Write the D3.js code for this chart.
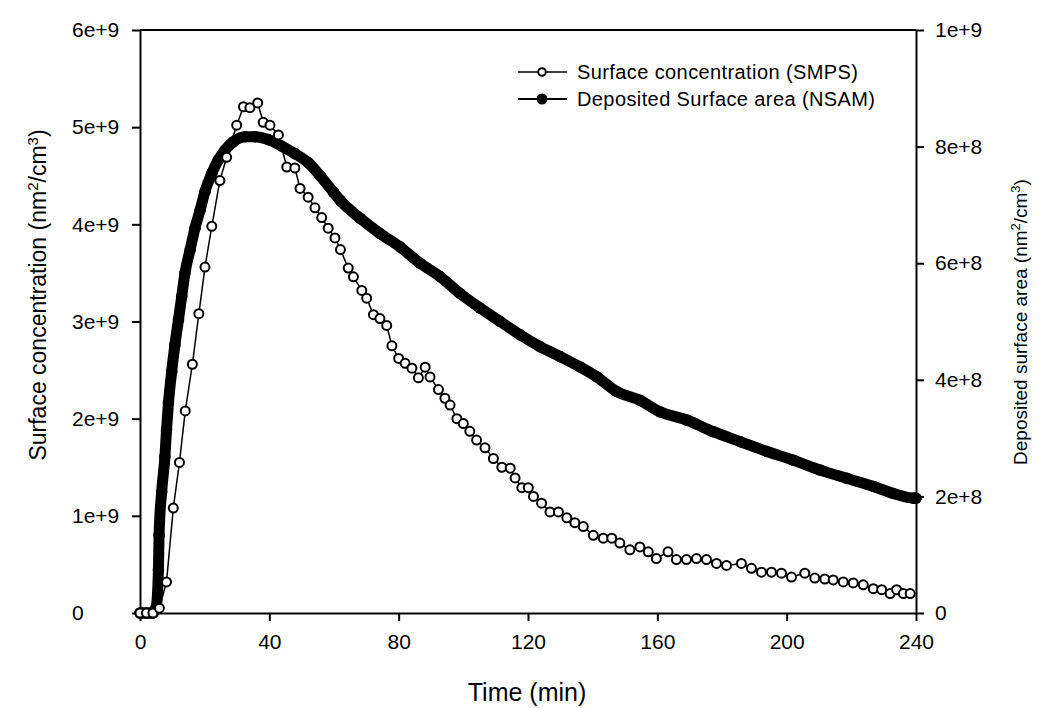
<!DOCTYPE html>
<html>
<head>
<meta charset="utf-8">
<script src="https://cdn.jsdelivr.net/npm/d3@7"></script>
<style>
    body { margin: 0; background: #fff; }
    svg text { font-family: "Liberation Sans", Arial, sans-serif; fill: #000; }
</style>
</head>
<body>
<svg id="chart" width="1044" height="708"></svg>
<script>
"use strict";

// data: SMPS surface concentration (1e9 nm2/cm3)
const smpsTime = [0, 2, 4, 6, 8.2, 10.3, 12.2, 14, 16.2, 18.2, 20.1, 22.2, 24.7, 26.8, 29.9, 32, 34, 36.4, 38.1, 40.2,
    42.8, 45.4, 47.9, 49.5, 52, 54.1, 56.2, 58.2, 60.3, 62, 64.4, 66, 68.6, 70.1, 72.2, 74.2, 76.3, 77.9, 80, 82,
    84.1, 86.1, 88.2, 89.7, 92.3, 94.3, 95.9, 98, 100, 102, 104.1, 106.7, 109.3, 111.9, 114.5, 116, 118.1, 120.1, 121.7, 124.2,
    126.8, 129.4, 132, 134.5, 137.1, 140.2, 143.3, 145.9, 148.4, 151.5, 154.6, 157.2, 159.7, 163.3, 165.9, 169, 172.1, 175.2, 178.3, 181.4,
    186, 189.1, 192.2, 195.3, 198.4, 201.5, 205.6, 208.7, 211.8, 214.4, 217.5, 220.6, 223.7, 226.8, 229.4, 232, 234, 236.1, 238.2];
const smpsValue = [0, 0, 0, 0.05, 0.32, 1.08, 1.55, 2.08, 2.56, 3.08, 3.56, 3.98, 4.45, 4.69, 5.02, 5.21, 5.2, 5.25, 5.05, 5.02,
    4.92, 4.59, 4.58, 4.37, 4.28, 4.17, 4.07, 3.96, 3.86, 3.74, 3.55, 3.46, 3.32, 3.24, 3.07, 3.03, 2.96, 2.75, 2.62, 2.57,
    2.52, 2.42, 2.53, 2.43, 2.3, 2.21, 2.14, 2.0, 1.95, 1.87, 1.78, 1.7, 1.59, 1.5, 1.49, 1.39, 1.29, 1.29, 1.2, 1.13,
    1.04, 1.04, 0.98, 0.93, 0.89, 0.8, 0.77, 0.77, 0.72, 0.65, 0.68, 0.63, 0.56, 0.63, 0.55, 0.55, 0.56, 0.55, 0.51, 0.49,
    0.51, 0.46, 0.42, 0.42, 0.41, 0.37, 0.41, 0.36, 0.35, 0.34, 0.32, 0.31, 0.29, 0.25, 0.24, 0.2, 0.24, 0.2, 0.2];

// data: NSAM deposited surface area (1e8 nm2/cm3)
const nsamTime = [0, 1, 2, 3, 4, 5, 5.7, 5.9, 6.7, 7.7, 8.2, 8.8, 9.8, 10.8, 11.9, 12.9, 13.9, 15.5, 17, 18.6,
    20.1, 22.2, 24.2, 26.3, 28.8, 32.5, 35.6, 39.7, 43.8, 47.9, 52.1, 55.7, 59.8, 61.9, 68.1, 74.2, 80.4, 86.6, 92.8, 99,
    105.2, 111.4, 117.6, 123.7, 129.9, 136.1, 141.3, 147.4, 154.6, 160.8, 169.1, 177.3, 185.6, 193.9, 202.1, 210.4, 218.6, 226.9, 233, 239.2, 240];
const nsamValue = [0, 0, 0, 0, 0, 0.1, 0.74, 1.34, 2.08, 2.68, 3.14, 3.6, 4.14, 4.6, 5.03, 5.43, 5.83, 6.23, 6.6, 6.91,
    7.23, 7.54, 7.77, 7.94, 8.08, 8.17, 8.17, 8.12, 8.01, 7.88, 7.72, 7.5, 7.22, 7.08, 6.77, 6.51, 6.28, 6.0, 5.77, 5.48,
    5.23, 5.0, 4.77, 4.57, 4.4, 4.22, 4.05, 3.8, 3.65, 3.45, 3.31, 3.11, 2.94, 2.77, 2.62, 2.45, 2.31, 2.17, 2.05, 1.97, 1.97];

// ticks
const xTicks = [0, 40, 80, 120, 160, 200, 240];
const yLeftTicks = [0, 1, 2, 3, 4, 5, 6];
const yLeftLabels = ["0", "1e+9", "2e+9", "3e+9", "4e+9", "5e+9", "6e+9"];
const yRightTicks = [0, 2, 4, 6, 8, 10];
const yRightLabels = ["0", "2e+8", "4e+8", "6e+8", "8e+8", "1e+9"];

const legendLabels = ["Surface concentration (SMPS)", "Deposited Surface area (NSAM)"];



// layout
const plot = { left: 140, right: 916, top: 30, bottom: 613 };

let chart = d3.select("#chart");



// scales
let scaleX = d3.scaleLinear().domain([0, 240]).range([plot.left, plot.right]);
let scaleYLeft = d3.scaleLinear().domain([0, 6]).range([plot.bottom, plot.top]);
let scaleYRight = d3.scaleLinear().domain([0, 10]).range([plot.bottom, plot.top]);



// frame (top line)
chart.append("line")
.attr("x1", plot.left).attr("x2", plot.right)
.attr("y1", plot.top).attr("y2", plot.top)
.attr("stroke", "#000").attr("stroke-width", 2);



// x axis
let xAxis = chart.append("g")
.attr("class", "x_axis")
.attr("transform", `translate(0, ${plot.bottom})`)
.call(d3.axisBottom(scaleX).tickValues(xTicks).tickSize(8).tickSizeOuter(0).tickFormat(d3.format("d")));
xAxis.selectAll("text").attr("font-size", 21).attr("dy", "0.95em").attr("y", 16);



// left y axis
let yAxisLeft = chart.append("g")
.attr("class", "y_axis_left")
.attr("transform", `translate(${plot.left}, 0)`)
.call(d3.axisLeft(scaleYLeft).tickValues(yLeftTicks).tickSize(8).tickSizeOuter(0).tickFormat((d, i) => yLeftLabels[i]));
yAxisLeft.selectAll("text")
.attr("font-size", 21)
.attr("text-anchor", "start")
.attr("x", -68);



// right y axis
let yAxisRight = chart.append("g")
.attr("class", "y_axis_right")
.attr("transform", `translate(${plot.right}, 0)`)
.call(d3.axisRight(scaleYRight).tickValues(yRightTicks).tickSize(8).tickSizeOuter(0).tickFormat((d, i) => yRightLabels[i]));
yAxisRight.selectAll("text")
.attr("font-size", 21)
.attr("x", 19);

chart.selectAll(".domain, .tick line").attr("stroke", "#000").attr("stroke-width", 2);



// axis titles
chart.append("text")
.attr("transform", "translate(46, 295) rotate(-90)")
.attr("text-anchor", "middle")
.attr("font-size", 23)
.html('Surface concentration (nm<tspan dy="-8" font-size="15">2</tspan><tspan dy="8">/cm</tspan><tspan dy="-8" font-size="15">3</tspan><tspan dy="8">)</tspan>');

chart.append("text")
.attr("transform", "translate(1027, 322) rotate(-90)")
.attr("text-anchor", "middle")
.attr("font-size", 19)
.html('Deposited surface area (nm<tspan dy="-7" font-size="13">2</tspan><tspan dy="7">/cm</tspan><tspan dy="-7" font-size="13">3</tspan><tspan dy="7">)</tspan>');

chart.append("text")
.attr("x", 527)
.attr("y", 701)
.attr("text-anchor", "middle")
.attr("font-size", 25)
.text("Time (min)");



// line generators
let lineSmps = d3.line()
.x((d, i) => scaleX(smpsTime[i]))
.y(d => scaleYLeft(d));

let lineNsam = d3.line()
.curve(d3.curveMonotoneX)
.x((d, i) => scaleX(nsamTime[i]))
.y(d => scaleYRight(d));



// NSAM: dense filled markers -> thick band
chart.append("path")
.attr("d", lineNsam(nsamValue))
.attr("fill", "none")
.attr("stroke", "#000")
.attr("stroke-width", 11)
.attr("stroke-linejoin", "round")
.attr("stroke-linecap", "round");

chart.append("g")
.selectAll("circle")
.data(nsamValue)
.enter()
.append("circle")
.attr("cx", (d, i) => scaleX(nsamTime[i]))
.attr("cy", d => scaleYRight(d))
.attr("r", 5.8)
.attr("fill", "#000");



// SMPS: thin line with open circles
chart.append("path")
.attr("d", lineSmps(smpsValue))
.attr("fill", "none")
.attr("stroke", "#000")
.attr("stroke-width", 1.5);

chart.append("g")
.selectAll("circle")
.data(smpsValue)
.enter()
.append("circle")
.attr("cx", (d, i) => scaleX(smpsTime[i]))
.attr("cy", d => scaleYLeft(d))
.attr("r", 4.5)
.attr("fill", "#fff")
.attr("stroke", "#000")
.attr("stroke-width", 2);



// legend
let legend = chart.append("g").attr("class", "legend");
legendLabels.forEach((label, i) => {
    let y = 72 + i * 27;
    legend.append("line")
    .attr("x1", 518).attr("x2", 567)
    .attr("y1", y).attr("y2", y)
    .attr("stroke", "#000")
    .attr("stroke-width", i == 0 ? 1.5 : 2);
    legend.append("circle")
    .attr("cx", 542).attr("cy", y)
    .attr("r", i == 0 ? 3.8 : 4.5)
    .attr("fill", i == 0 ? "#fff" : "#000")
    .attr("stroke", "#000")
    .attr("stroke-width", 2);
    legend.append("text")
    .attr("x", 577)
    .attr("y", y)
    .attr("dy", "0.35em")
    .attr("font-size", 20)
    .attr("letter-spacing", 0.4)
    .text(label);
});
</script>
</body>
</html>
